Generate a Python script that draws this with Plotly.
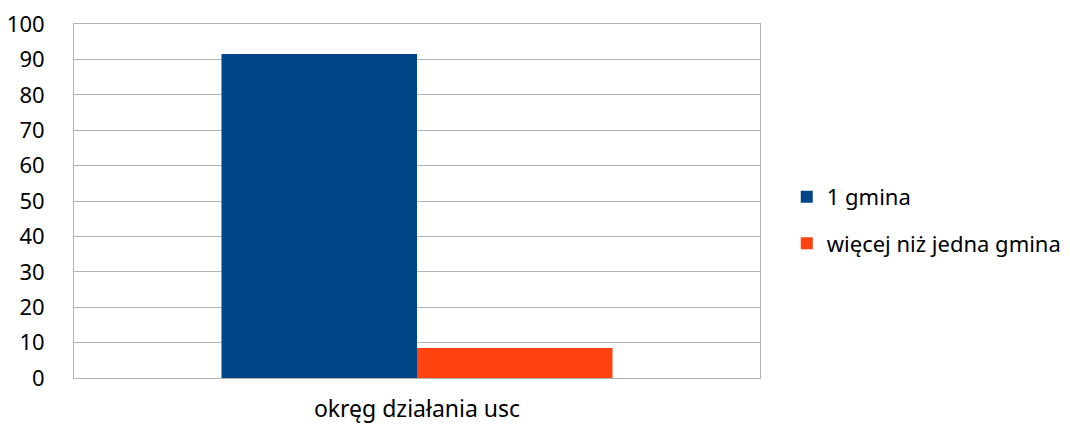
import plotly.graph_objects as go

categories = ["okręg działania usc"]
series_names = ["1 gmina", "więcej niż jedna gmina"]
values_1 = [91.5]
values_2 = [8.5]
y_ticks = [0, 10, 20, 30, 40, 50, 60, 70, 80, 90, 100]

colors = ["#004586", "#ff420e"]

fig = go.Figure()
fig.add_trace(go.Bar(x=categories, y=values_1, name=series_names[0], legendgroup="a",
                     marker=dict(color=colors[0], line=dict(width=0))))
fig.add_trace(go.Bar(x=categories, y=values_2, name=series_names[1], legendgroup="b",
                     marker=dict(color=colors[1], line=dict(width=0))))

font = "Noto Sans"
fig.update_layout(
    width=1070, height=425,
    margin=dict(l=66, r=318, t=16, b=55, autoexpand=False),
    paper_bgcolor="white", plot_bgcolor="white",
    barmode="group", bargap=0.43, bargroupgap=0,
    font=dict(family=font, size=22, color="#000000"),
    legend=dict(x=1.039, y=0.445, xanchor="left", yanchor="middle",
                font=dict(size=22), tracegroupgap=15, traceorder="grouped"),
    showlegend=True,
)
fig.update_yaxes(range=[0, 100], tickvals=y_ticks, showgrid=True, gridcolor="#b3b3b3", gridwidth=1,
                 showline=True, linecolor="#b3b3b3", linewidth=1, mirror=True,
                 ticks="", ticklabelstandoff=24, zeroline=False, automargin=False,
                 ticklabeloverflow="allow", tickfont=dict(size=22))
fig.update_xaxes(showline=True, linecolor="#b3b3b3", linewidth=1, mirror=True,
                 ticks="", ticklabelstandoff=10, automargin=False,
                 ticklabeloverflow="allow", tickfont=dict(size=23))

fig.write_html("out.html")
